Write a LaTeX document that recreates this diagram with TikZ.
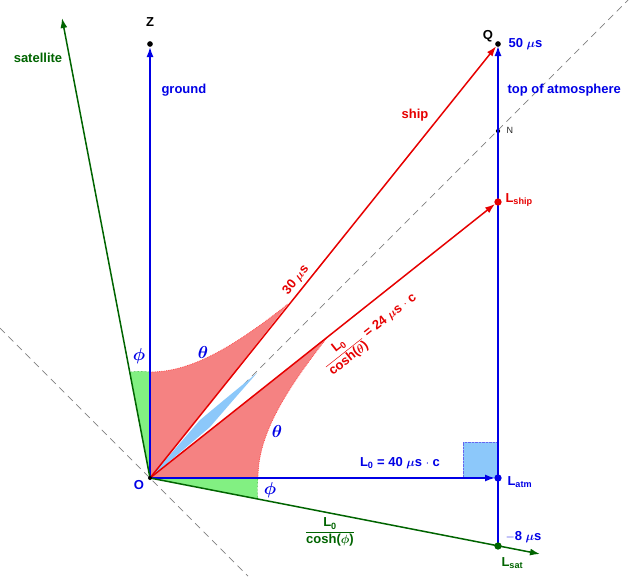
\documentclass[tikz,border=0pt]{standalone}
\usepackage{amsmath}
\usepackage{fontspec}
\setmainfont{Liberation Sans}
\usetikzlibrary{arrows.meta}
\definecolor{myblue}{RGB}{0,0,230}
\definecolor{myred}{RGB}{230,0,0}
\definecolor{mygreen}{RGB}{0,100,0}
\definecolor{redfill}{RGB}{245,130,130}
\definecolor{bluefill}{RGB}{140,200,250}
\definecolor{greenfill}{RGB}{130,240,130}
\tikzset{
  ax/.style={line width=1.5pt,-{Latex[length=10pt,width=7pt]}},
  dsh/.style={gray,dashed,dash pattern=on 7pt off 5pt,line width=0.7pt},
  lbl/.style={font=\bfseries\fontsize{13}{15}\selectfont},
  gk/.style={font=\fontsize{16}{18}\selectfont},
  ocirc/.style={circle,draw,fill=white,inner sep=2.2pt,line width=1pt},
  dotn/.style={circle,fill=black,inner sep=2pt},
}
\begin{document}
\begin{tikzpicture}[x=1pt,y=-1pt]
\useasboundingbox (0,0) rectangle (640,576);
% dashed lines
\draw[dsh] (0,328) -- (248,576);
\draw[dsh] (150,478) -- (628,0);
% fills
\fill[redfill] (150,478) -- plot[domain=0:138,samples=30] ({150+\x},{478-100*sqrt(1.1236+(\x/100)^2)}) -- cycle;
\fill[redfill] (150,478) -- plot[domain=0:141,samples=30] ({150+100*sqrt(1.1664+(\x/100)^2)},{478-\x}) -- cycle;
\draw[red!70,densely dotted,line width=0.8pt] plot[domain=0:138,samples=30] ({150+\x},{478-100*sqrt(1.1236+(\x/100)^2)});
\draw[red!70,densely dotted,line width=0.8pt] plot[domain=0:141,samples=30] ({150+100*sqrt(1.1664+(\x/100)^2)},{478-\x});
\fill[bluefill] (150,478) -- (200,420) .. controls (230,395) .. (257,373) .. controls (235,398) .. (210,427) -- cycle;
\fill[greenfill] (150,478) -- (130,372) .. controls (140,371) .. (150,372) -- cycle;
\fill[greenfill] (150,478) -- (258,478) .. controls (257,490) .. (258,499) -- cycle;
\draw[green!60!black,densely dotted] (130,372) .. controls (140,371) .. (150,372);
\draw[green!60!black,densely dotted] (258,478) .. controls (257,490) .. (258,499);
\fill[bluefill] (463,442) rectangle (498,478);
\draw[myblue!60,densely dotted] (463,478) -- (463,442) -- (498,442);
% nodes
\coordinate (O) at (150,478);
\node[dotn] (Z) at (150,44) {};
\node[dotn] (Q) at (498,44) {};
\node[dotn,inner sep=1.5pt] (N) at (498,131) {};
\coordinate (sat) at (62,18);
\coordinate (satend) at (540,554);
\coordinate (top) at (498,46);
% connectors
\draw[ax,myblue] (O) -- (Z);
\draw[line width=1.5pt,myblue] (498,546) -- (498,478);
\draw[ax,myblue] (498,478) -- (top);
\draw[ax,myblue] (O) -- (495,478);
\draw[ax,mygreen] (O) -- (sat);
\draw[ax,mygreen] (O) -- (satend);
\draw[ax,myred] (O) -- (Q);
\draw[ax,myred] (O) -- (495,204);
\node[ocirc,myblue] (Latm) at (498,478) {};
\node[ocirc,mygreen] (Lsat) at (498,546) {};
\node[ocirc,myred] (Lship) at (498,202) {};
\fill (O) circle (2pt);
% labels
\node[lbl] at (150,22) {Z};
\node[lbl] at (488,36) {Q};
\node[lbl,myblue,anchor=west] at (505,44) {50 $\boldsymbol\mu$s};
\node[lbl,myblue,anchor=west] at (504,90) {top of atmosphere};
\node[font=\small,gray!30!black,anchor=west] at (503,130) {N};
\node[lbl,myred,anchor=west] at (502,200) {L$_{\textbf{ship}}$};
\node[lbl,myblue,anchor=west] at (158,90) {ground};
\node[lbl,mygreen] at (38,58) {satellite};
\node[lbl,myred] at (415,115) {ship};
\node[lbl,myred,rotate=51.3] at (296,280) {30 $\boldsymbol{\mu}$s};
\node[lbl,myred,rotate=38.4] at (370,332) {$\dfrac{\textbf{L}_{\mathbf 0}}{\textbf{cosh(}\boldsymbol{\theta}\textbf{)}}$ = 24 $\boldsymbol\mu$s $\cdot$ c};
\node[myblue,gk] at (203,352) {$\boldsymbol\theta$};
\node[myblue,gk] at (277,431) {$\boldsymbol\theta$};
\node[myblue,gk] at (139,356) {$\boldsymbol\phi$};
\node[myblue,gk] at (270,490) {$\boldsymbol\phi$};
\node[lbl,myblue] at (400,463) {L$_{\mathbf 0}$ = 40 $\boldsymbol\mu$s $\cdot$ c};
\node[lbl,myblue,anchor=west] at (504,482) {L$_{\textbf{atm}}$};
\node[lbl,myblue,anchor=west] at (502,537) {$\mathbf{-8}$ $\boldsymbol\mu$s};
\node[lbl,mygreen,anchor=west] at (498,563) {L$_{\textbf{sat}}$};
\node[lbl,mygreen] at (330,532) {$\dfrac{\textbf{L}_{\mathbf 0}}{\textbf{cosh(}\boldsymbol{\phi}\textbf{)}}$};
\node[lbl,myblue] at (139,485) {O};
\end{tikzpicture}
\end{document}
